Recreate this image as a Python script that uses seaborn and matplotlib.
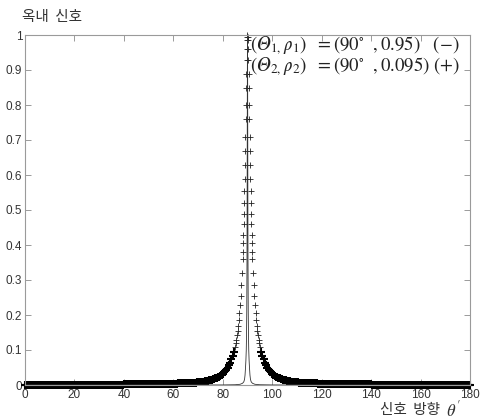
import numpy as np
import pandas as pd
import matplotlib
matplotlib.use("Agg")
import matplotlib.pyplot as plt
import seaborn as sns

# ---------------- data ----------------
peak_angle = 90.0

# "+" series (rho2 = 0.095): value as a function of offset from the peak
plus_core_offsets = [0.0, 0.1, 0.2, 0.3, 0.4, 0.5, 0.6, 0.7, 0.8, 0.9, 1.0,
                     1.1, 1.2, 1.3, 1.4, 1.5, 1.6, 1.7, 1.8, 1.9, 2.0,
                     2.25, 2.5, 2.75, 3.0, 3.25, 3.5, 3.75, 4.0, 4.25, 4.5, 4.75, 5.0]
plus_core_values = [1.0, 0.995, 0.985, 0.96, 0.93, 0.89, 0.85, 0.80, 0.76, 0.71, 0.67,
                    0.63, 0.59, 0.555, 0.52, 0.49, 0.46, 0.43, 0.405, 0.38, 0.36,
                    0.32, 0.285, 0.255, 0.228, 0.205, 0.186, 0.170, 0.155, 0.142, 0.130, 0.120, 0.110]
plus_tail_offsets = np.arange(5.5, 90.01, 0.5)
plus_tail_values = [
    0.095, 0.083, 0.073, 0.064, 0.056, 0.050, 0.044, 0.040, 0.036, 0.032,
    0.029, 0.026, 0.024, 0.022, 0.020, 0.019, 0.017, 0.016, 0.015, 0.014,
    0.013, 0.012, 0.012, 0.011, 0.010, 0.010, 0.009, 0.009, 0.008, 0.008,
    0.008, 0.007, 0.007, 0.007, 0.006, 0.006, 0.006, 0.006, 0.006, 0.006,
    0.005, 0.005, 0.005, 0.005, 0.005, 0.005, 0.004, 0.004, 0.004, 0.004,
    0.004, 0.004, 0.004, 0.004, 0.003, 0.003, 0.003, 0.003, 0.003, 0.003,
    0.003, 0.003, 0.003, 0.003, 0.003, 0.003, 0.002, 0.002, 0.002, 0.002,
    0.002, 0.002, 0.002, 0.002, 0.002, 0.002, 0.002, 0.002, 0.002, 0.002,
    0.002, 0.002, 0.002, 0.002, 0.002, 0.002, 0.002, 0.002, 0.002, 0.002,
    0.001, 0.001, 0.001, 0.001, 0.001, 0.001, 0.001, 0.001, 0.001, 0.001,
    0.001, 0.001, 0.001, 0.001, 0.001, 0.001, 0.001, 0.001, 0.001, 0.001,
    0.001, 0.001, 0.001, 0.001, 0.001, 0.001, 0.001, 0.001, 0.001, 0.001,
    0.001, 0.001, 0.001, 0.001, 0.001, 0.001, 0.001, 0.001, 0.001, 0.001,
    0.001, 0.001, 0.001, 0.001, 0.001, 0.001, 0.001, 0.001, 0.001, 0.001,
    0.001, 0.001, 0.001, 0.001, 0.001, 0.001, 0.001, 0.001, 0.001, 0.001,
    0.001, 0.001, 0.001, 0.001, 0.001, 0.001, 0.001, 0.001, 0.001, 0.001,
    0.001, 0.001, 0.001, 0.001, 0.001, 0.001, 0.001, 0.001, 0.001, 0.001,
]

# solid series (rho1 = 0.95)
line_offsets = [0.0, 0.05, 0.1, 0.15, 0.2, 0.3, 0.4, 0.5, 0.65, 0.8, 1.0,
                1.2, 1.5, 2.0, 3.0, 5.0, 10.0, 20.0, 45.0, 90.0]
line_values = [1.0, 0.9, 0.7, 0.5, 0.36, 0.21, 0.14, 0.10, 0.07, 0.05, 0.028,
               0.016, 0.009, 0.005, 0.002, 0.0008, 0.0002, 0.0001, 0.0, 0.0]

x_ticks = [0, 20, 40, 60, 80, 100, 120, 140, 160, 180]
y_ticks = [0, 0.1, 0.2, 0.3, 0.4, 0.5, 0.6, 0.7, 0.8, 0.9, 1]
y_tick_labels = ["0", "0.1", "0.2", "0.3", "0.4", "0.5", "0.6", "0.7", "0.8", "0.9", "1"]

y_label = "옥내  신호"
x_label = "신호  방향  "
legend_lines = ["$(𝛩_{1,}𝜌_1)\\ \\ =(90^{\\circ}\\ \\ ,0.95)\\ \\ \\ (-)$",
                "$(𝛩_{2,}𝜌_2)\\ \\ =(90^{\\circ}\\ \\ ,0.095)\\ (+)$"]


def mirror(offsets, values):
    offsets = np.asarray(offsets, dtype=float)
    values = np.asarray(values, dtype=float)
    xs = np.concatenate([peak_angle - offsets[::-1], peak_angle + offsets[1:]])
    ys = np.concatenate([values[::-1], values[1:]])
    return xs, ys


core_x, core_y = mirror(plus_core_offsets, plus_core_values)
tail_off = np.asarray(plus_tail_offsets, dtype=float)
tail_val = np.asarray(plus_tail_values, dtype=float)
tail_x = np.concatenate([peak_angle - tail_off, peak_angle + tail_off])
tail_y = np.concatenate([tail_val, tail_val])
lx, ly = mirror(line_offsets, line_values)

core_df = pd.DataFrame({"angle": core_x, "signal": core_y})
tail_df = pd.DataFrame({"angle": tail_x, "signal": tail_y})
line_df = pd.DataFrame({"angle": lx, "signal": ly})

# ---------------- drawing ----------------
sns.set_theme(style="white")
plt.rcParams["font.family"] = ["Liberation Sans", "DejaVu Sans"]
plt.rcParams["mathtext.fontset"] = "stix"

fig = plt.figure(figsize=(4.81, 4.18), dpi=100)
ax = fig.add_axes([25 / 481, 33 / 418, 445 / 481, 350 / 418])

sns.lineplot(data=line_df, x="angle", y="signal", ax=ax, color="#333333",
             linewidth=0.6, estimator=None, sort=False)
sns.scatterplot(data=tail_df, x="angle", y="signal", ax=ax, color="black",
                marker="+", s=26, linewidth=1.5, clip_on=False, legend=False)
sns.scatterplot(data=core_df, x="angle", y="signal", ax=ax, color="#222222",
                marker="+", s=20, linewidth=0.6, clip_on=False, legend=False)

ax.set_xlim(0, 180)
ax.set_ylim(0, 1)
ax.set_xticks(x_ticks)
ax.set_xticklabels([str(t) for t in x_ticks])
ax.set_yticks(y_ticks)
ax.set_yticklabels(y_tick_labels)
ax.set_xlabel("")
ax.set_ylabel("")

for side in ["left", "right", "top", "bottom"]:
    ax.spines[side].set_visible(True)
    ax.spines[side].set_color("#9a9a9a")
    ax.spines[side].set_linewidth(0.8)

ax.tick_params(axis="both", which="both", direction="in", length=4, width=0.7,
               color="#9a9a9a", labelsize=8.5, labelcolor="#333333",
               top=True, right=True, bottom=True, left=True, pad=2)
ax.tick_params(axis="x", pad=3)

for i, txt in enumerate(legend_lines):
    ax.text(91.0, 0.968 - i * 0.06, txt, fontsize=13.5, ha="left", va="center",
            color="#222222")

fig.text(22 / 481, 1 - 17 / 418, y_label, fontsize=10.5, ha="left", va="center",
         color="#333333", family=["Noto Sans CJK KR", "DejaVu Sans"])
fig.text(446 / 481, 1 - 410 / 418, x_label, fontsize=10.5, ha="right", va="center",
         color="#333333", family=["Noto Sans CJK KR", "DejaVu Sans"])
fig.text(446 / 481, 1 - 409 / 418, "$𝜃'$", fontsize=12.5, ha="left",
         va="center", color="#333333")

fig.savefig("out.png", dpi=100, facecolor="white")
